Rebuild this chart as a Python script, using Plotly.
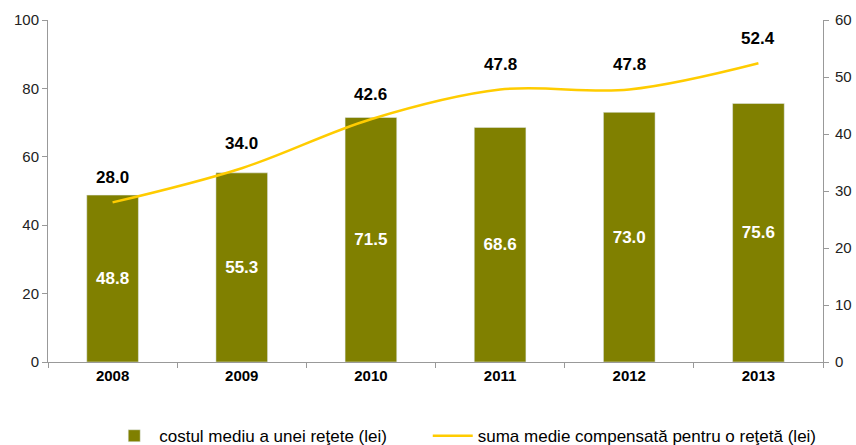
import plotly.graph_objects as go

years = ["2008", "2009", "2010", "2011", "2012", "2013"]
cost = [48.8, 55.3, 71.5, 68.6, 73.0, 75.6]
comp = [28.0, 34.0, 42.6, 47.8, 47.8, 52.4]

font_family = "Liberation Sans, Arial, sans-serif"

fig = go.Figure()
fig.add_trace(go.Bar(
    x=years, y=cost, name="costul mediu a unei reţete (lei)",
    marker_color="#808000", width=0.4,
    text=[f"{v:.1f}" for v in cost], textposition="inside",
    insidetextanchor="middle",
    textfont=dict(color="white", size=17, family=font_family, weight="bold"),
    yaxis="y", legend="legend",
))
fig.add_trace(go.Scatter(
    x=years, y=comp, name="suma medie compensată pentru o reţetă (lei)",
    mode="lines", line=dict(color="#FFCC00", width=2.5, shape="spline"),
    yaxis="y2", legend="legend2",
))
for i, v in enumerate(comp):
    fig.add_annotation(x=i, y=v, xref="x", yref="y2", text=f"<b>{v:.1f}</b>",
                       showarrow=False, yshift=25,
                       font=dict(color="black", size=17, family=font_family))

legend_common = dict(orientation="h", xanchor="left", y=-0.217,
                     yanchor="middle", font=dict(size=17, color="black"),
                     itemwidth=40, bgcolor="rgba(0,0,0,0)")

fig.update_layout(
    width=856, height=445,
    margin=dict(l=48, r=33, t=20, b=83, autoexpand=False),
    plot_bgcolor="white", paper_bgcolor="white",
    font=dict(family=font_family, size=15, color="#222"),
    showlegend=True,
    legend=dict(x=0.079, **legend_common),
    legend2=dict(x=0.490, **legend_common),
    xaxis=dict(type="category", range=[-0.5, len(years) - 0.5],
               automargin=False,
               showline=True, linecolor="#999", linewidth=1,
               ticks="outside", tickson="boundaries", ticklen=5,
               tickcolor="#999",
               tickfont=dict(size=15, color="black", weight="bold"),
               showgrid=False),
    yaxis=dict(range=[0, 100], dtick=20, showline=True, linecolor="#999",
               automargin=False,
               ticks="outside", ticklen=5, tickcolor="#999",
               showgrid=False, zeroline=False,
               tickfont=dict(size=15, color="#222")),
    yaxis2=dict(range=[0, 60], dtick=10, overlaying="y", side="right",
                automargin=False, ticklabelstandoff=3,
                showline=True, linecolor="#999", ticks="outside",
                ticklen=5, tickcolor="#999", showgrid=False,
                zeroline=False, tickfont=dict(size=15, color="#222")),
)

fig.write_html(
    "out.html",
    config={"displayModeBar": False},
    post_script="document.body.style.margin='0';document.body.style.overflow='hidden';",
)
